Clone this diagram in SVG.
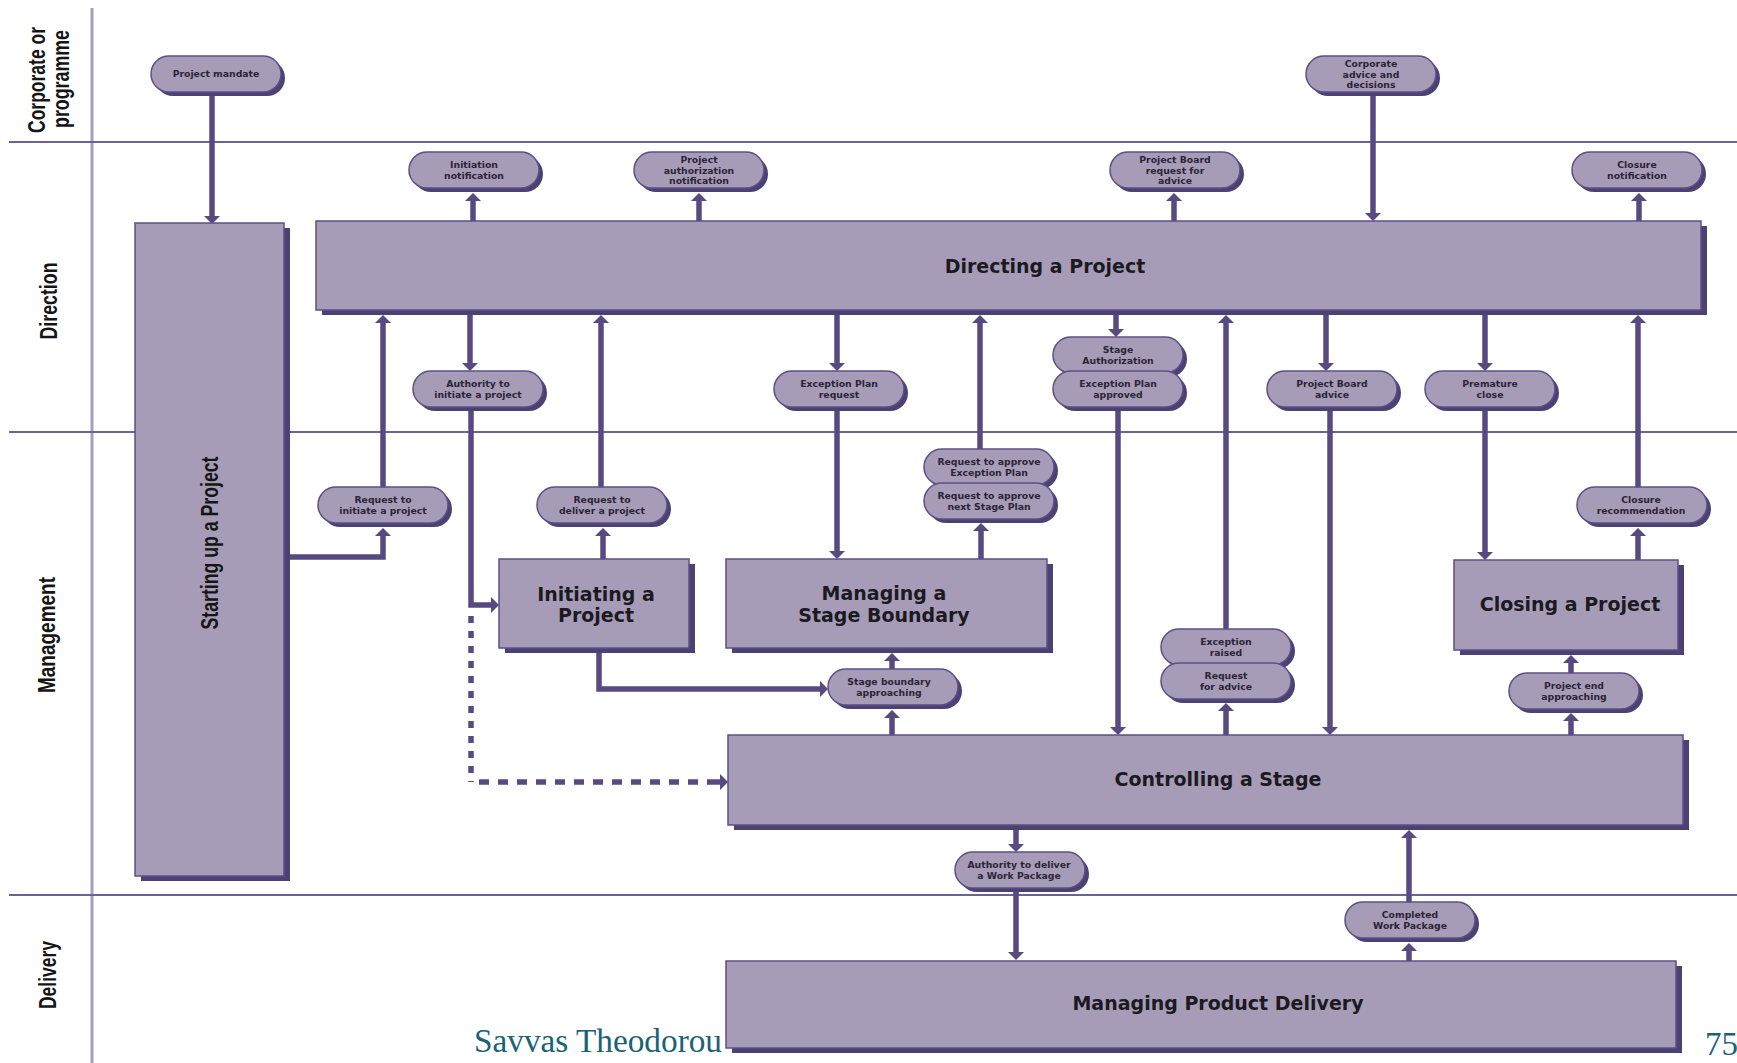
<svg xmlns="http://www.w3.org/2000/svg" xmlns:xlink="http://www.w3.org/1999/xlink" width="1737" height="1063" viewBox="0 0 1737 1063">
  <style>
    .lane-h { stroke: #6d6196; stroke-width: 2; fill: none; }
    .lane-v { stroke: #a59dc2; stroke-width: 3; fill: none; }
    .box { fill: #a79cb8; stroke: #5c4f86; stroke-width: 1.5; }
    .shadow { fill: #4d4073; }
    .flow { stroke: #574a80; stroke-width: 5.5; fill: none; marker-end: url(#ah); }
    .dots { stroke: #574a80; stroke-width: 5.5; fill: none; }
    .lane { font-family: "Liberation Sans", Arial, sans-serif; font-weight: bold; font-size: 23px; fill: #151515; text-anchor: middle; }
    .title { font-family: "DejaVu Sans", "Liberation Sans", sans-serif; font-weight: bold; font-size: 19px; fill: #1b1a22; text-anchor: middle; }
    .pt { font-family: "DejaVu Sans", "Liberation Sans", sans-serif; font-weight: bold; font-size: 9.3px; fill: #2a2436; text-anchor: middle; }
    .foot { font-family: "Liberation Serif", "Times New Roman", serif; font-size: 33px; fill: #1a6276; }
  </style>
  <defs>
    <marker id="ah" viewBox="0 0 8 16" refX="1" refY="8" markerWidth="8" markerHeight="16" markerUnits="userSpaceOnUse" orient="auto">
      <path d="M0,0 L8,8 L0,16 z" fill="#574a80"/>
    </marker>
    <g id="pill">
      <rect x="4" y="4" width="130" height="36" rx="18" class="shadow"/>
      <rect x="0" y="0" width="130" height="36" rx="18" class="box" stroke-width="2"/>
    </g>
  </defs>

  <rect width="1737" height="1063" fill="#ffffff"/>

  <!-- swim lanes -->
  <g id="lanes">
    <line class="lane-v" x1="92" y1="8" x2="92" y2="1063"/>
    <line class="lane-h" x1="9" y1="142" x2="1737" y2="142"/>
    <line class="lane-h" x1="9" y1="432" x2="1737" y2="432"/>
    <line class="lane-h" x1="9" y1="895" x2="1737" y2="895"/>
    <text class="lane" transform="translate(45,80) rotate(-90)" textLength="106" lengthAdjust="spacingAndGlyphs">Corporate or</text>
    <text class="lane" transform="translate(69,79) rotate(-90)" textLength="98" lengthAdjust="spacingAndGlyphs">programme</text>
    <text class="lane" transform="translate(57,301) rotate(-90)" textLength="77" lengthAdjust="spacingAndGlyphs">Direction</text>
    <text class="lane" transform="translate(55,635) rotate(-90)" textLength="116" lengthAdjust="spacingAndGlyphs">Management</text>
    <text class="lane" transform="translate(56,975) rotate(-90)" textLength="68" lengthAdjust="spacingAndGlyphs">Delivery</text>
  </g>

  <!-- connectors -->
  <g id="connectors">
    <path class="flow" d="M212,93 V217"/>
    <path class="flow" d="M473,221 V200"/>
    <path class="flow" d="M699,221 V200"/>
    <path class="flow" d="M1174,221 V200"/>
    <path class="flow" d="M1373,93 V214"/>
    <path class="flow" d="M1639,221 V200"/>
    <path class="flow" d="M383,487 V322"/>
    <path class="flow" d="M470,313 V364"/>
    <path class="flow" d="M471,410 V605 H492"/>
    <path class="dots" d="M471,616 V782" stroke-dasharray="7 8"/>
    <path class="dots" d="M479,782 H713" stroke-dasharray="10 9"/>
    <path class="flow" d="M713,782 H721"/>
    <path class="flow" d="M290,557 H383 V535"/>
    <path class="flow" d="M603,559 V535"/>
    <path class="flow" d="M601,487 V322"/>
    <path class="flow" d="M837,313 V364"/>
    <path class="flow" d="M837,410 V552"/>
    <path class="flow" d="M980,449 V322"/>
    <path class="flow" d="M981,559 V530"/>
    <path class="flow" d="M1116,313 V330"/>
    <path class="flow" d="M1118,410 V728"/>
    <path class="flow" d="M1226,629 V322"/>
    <path class="flow" d="M1226,735 V710"/>
    <path class="flow" d="M1326,313 V364"/>
    <path class="flow" d="M1330,410 V728"/>
    <path class="flow" d="M1485,313 V364"/>
    <path class="flow" d="M1485,410 V553"/>
    <path class="flow" d="M1638,487 V322"/>
    <path class="flow" d="M1638,560 V535"/>
    <path class="flow" d="M1571,735 V720"/>
    <path class="flow" d="M1571,673 V662"/>
    <path class="flow" d="M892,735 V717"/>
    <path class="flow" d="M892,669 V660"/>
    <path class="flow" d="M599,651 V689 H821"/>
    <path class="flow" d="M1016,828 V845"/>
    <path class="flow" d="M1016,892 V953"/>
    <path class="flow" d="M1409,902 V837"/>
    <path class="flow" d="M1409,961 V950"/>
  </g>

  <!-- process boxes -->
  <g id="starting-up">
    <rect class="shadow" x="141" y="228" width="149" height="653"/>
    <rect class="box" x="135" y="223" width="149" height="653"/>
    <text class="lane" transform="translate(218,543) rotate(-90)" textLength="173" lengthAdjust="spacingAndGlyphs">Starting up a Project</text>
  </g>
  <g id="directing">
    <rect class="shadow" x="322" y="226" width="1385" height="89"/>
    <rect class="box" x="316" y="221" width="1385" height="89"/>
    <text class="title" x="1045" y="273">Directing a Project</text>
  </g>
  <g id="initiating">
    <rect class="shadow" x="505" y="564" width="190" height="89"/>
    <rect class="box" x="499" y="559" width="190" height="89"/>
    <text class="title" x="596" y="601">Initiating a</text>
    <text class="title" x="596" y="622">Project</text>
  </g>
  <g id="stage-boundary">
    <rect class="shadow" x="732" y="564" width="321" height="89"/>
    <rect class="box" x="726" y="559" width="321" height="89"/>
    <text class="title" x="884" y="600">Managing a</text>
    <text class="title" x="884" y="622">Stage Boundary</text>
  </g>
  <g id="closing">
    <rect class="shadow" x="1460" y="565" width="224" height="90"/>
    <rect class="box" x="1454" y="560" width="224" height="90"/>
    <text class="title" x="1570" y="611">Closing a Project</text>
  </g>
  <g id="controlling">
    <rect class="shadow" x="734" y="740" width="955" height="90"/>
    <rect class="box" x="728" y="735" width="955" height="90"/>
    <text class="title" x="1218" y="786">Controlling a Stage</text>
  </g>
  <g id="product-delivery">
    <rect class="shadow" x="732" y="966" width="950" height="87"/>
    <rect class="box" x="726" y="961" width="950" height="87"/>
    <text class="title" x="1218" y="1010">Managing Product Delivery</text>
  </g>

  <!-- information flows -->
  <g id="project-mandate">
    <use xlink:href="#pill" x="151" y="56"/>
    <text class="pt" x="216" y="77.4">Project mandate</text>
  </g>
  <g id="initiation-notification">
    <use xlink:href="#pill" x="409" y="152"/>
    <text class="pt" x="474" y="168.1">Initiation</text>
    <text class="pt" x="474" y="178.6">notification</text>
  </g>
  <g id="authorization-notification">
    <use xlink:href="#pill" x="634" y="152"/>
    <text class="pt" x="699" y="163">Project</text>
    <text class="pt" x="699" y="173.5">authorization</text>
    <text class="pt" x="699" y="184">notification</text>
  </g>
  <g id="board-request">
    <use xlink:href="#pill" x="1110" y="152"/>
    <text class="pt" x="1175" y="163">Project Board</text>
    <text class="pt" x="1175" y="173.5">request for</text>
    <text class="pt" x="1175" y="184">advice</text>
  </g>
  <g id="corporate-advice">
    <use xlink:href="#pill" x="1306" y="56"/>
    <text class="pt" x="1371" y="67">Corporate</text>
    <text class="pt" x="1371" y="77.5">advice and</text>
    <text class="pt" x="1371" y="88">decisions</text>
  </g>
  <g id="closure-notification">
    <use xlink:href="#pill" x="1572" y="152"/>
    <text class="pt" x="1637" y="168.1">Closure</text>
    <text class="pt" x="1637" y="178.6">notification</text>
  </g>
  <g id="authority-initiate">
    <use xlink:href="#pill" x="413" y="371"/>
    <text class="pt" x="478" y="387.1">Authority to</text>
    <text class="pt" x="478" y="397.6">initiate a project</text>
  </g>
  <g id="request-initiate">
    <use xlink:href="#pill" x="318" y="487"/>
    <text class="pt" x="383" y="503.1">Request to</text>
    <text class="pt" x="383" y="513.6">initiate a project</text>
  </g>
  <g id="request-deliver">
    <use xlink:href="#pill" x="537" y="487"/>
    <text class="pt" x="602" y="503.1">Request to</text>
    <text class="pt" x="602" y="513.6">deliver a project</text>
  </g>
  <g id="exception-plan-request">
    <use xlink:href="#pill" x="774" y="371"/>
    <text class="pt" x="839" y="387.1">Exception Plan</text>
    <text class="pt" x="839" y="397.6">request</text>
  </g>
  <g id="approve-exception-plan">
    <use xlink:href="#pill" x="924" y="449"/>
    <text class="pt" x="989" y="465.1">Request to approve</text>
    <text class="pt" x="989" y="475.6">Exception Plan</text>
  </g>
  <g id="approve-stage-plan">
    <use xlink:href="#pill" x="924" y="483"/>
    <text class="pt" x="989" y="499.1">Request to approve</text>
    <text class="pt" x="989" y="509.6">next Stage Plan</text>
  </g>
  <g id="stage-authorization">
    <use xlink:href="#pill" x="1053" y="337"/>
    <text class="pt" x="1118" y="353.1">Stage</text>
    <text class="pt" x="1118" y="363.6">Authorization</text>
  </g>
  <g id="exception-plan-approved">
    <use xlink:href="#pill" x="1053" y="371"/>
    <text class="pt" x="1118" y="387.1">Exception Plan</text>
    <text class="pt" x="1118" y="397.6">approved</text>
  </g>
  <g id="exception-raised">
    <use xlink:href="#pill" x="1161" y="629"/>
    <text class="pt" x="1226" y="645.1">Exception</text>
    <text class="pt" x="1226" y="655.6">raised</text>
  </g>
  <g id="request-advice">
    <use xlink:href="#pill" x="1161" y="663"/>
    <text class="pt" x="1226" y="679.1">Request</text>
    <text class="pt" x="1226" y="689.6">for advice</text>
  </g>
  <g id="board-advice">
    <use xlink:href="#pill" x="1267" y="371"/>
    <text class="pt" x="1332" y="387.1">Project Board</text>
    <text class="pt" x="1332" y="397.6">advice</text>
  </g>
  <g id="premature-close">
    <use xlink:href="#pill" x="1425" y="371"/>
    <text class="pt" x="1490" y="387.1">Premature</text>
    <text class="pt" x="1490" y="397.6">close</text>
  </g>
  <g id="closure-recommendation">
    <use xlink:href="#pill" x="1577" y="487"/>
    <text class="pt" x="1641" y="503.1">Closure</text>
    <text class="pt" x="1641" y="513.6">recommendation</text>
  </g>
  <g id="project-end">
    <use xlink:href="#pill" x="1509" y="673"/>
    <text class="pt" x="1574" y="689.1">Project end</text>
    <text class="pt" x="1574" y="699.6">approaching</text>
  </g>
  <g id="stage-boundary-approaching">
    <use xlink:href="#pill" x="828" y="669"/>
    <text class="pt" x="889" y="685.1">Stage boundary</text>
    <text class="pt" x="889" y="695.6">approaching</text>
  </g>
  <g id="authority-work-package">
    <use xlink:href="#pill" x="955" y="852"/>
    <text class="pt" x="1019" y="868.1">Authority to deliver</text>
    <text class="pt" x="1019" y="878.6">a Work Package</text>
  </g>
  <g id="completed-work-package">
    <use xlink:href="#pill" x="1345" y="902"/>
    <text class="pt" x="1410" y="918.1">Completed</text>
    <text class="pt" x="1410" y="928.6">Work Package</text>
  </g>

  <!-- slide footer -->
  <text class="foot" x="474" y="1052" textLength="248" lengthAdjust="spacingAndGlyphs">Savvas Theodorou</text>
  <text class="foot" x="1705" y="1055">75</text>
</svg>
